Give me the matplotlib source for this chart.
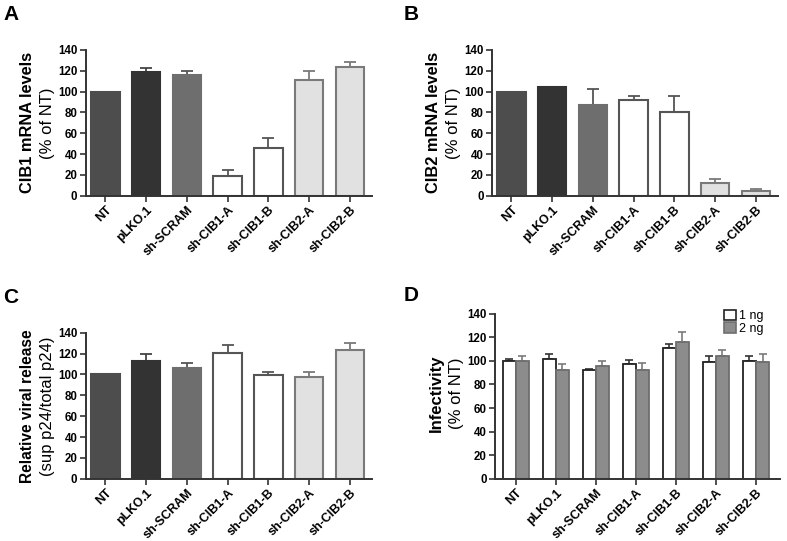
import numpy as np
import matplotlib as mpl
mpl.use('Agg')
from matplotlib import pyplot as plt
from matplotlib.patches import Patch

plt.rcParams['font.family'] = ['Liberation Sans', 'DejaVu Sans']

labels = ['NT', 'pLKO.1', 'sh-SCRAM', 'sh-CIB1-A', 'sh-CIB1-B', 'sh-CIB2-A', 'sh-CIB2-B']

# A: CIB1 mRNA levels (% of NT)
cib1_mean = [100, 118.5, 116, 19, 46, 111, 123.5]
cib1_err = [0, 4.5, 3.5, 5.5, 9, 9, 4.5]
# B: CIB2 mRNA levels (% of NT)
cib2_mean = [100, 104, 87, 92, 80, 12, 4.5]
cib2_err = [0, 0, 15, 4, 16, 4, 2.5]
# C: relative viral release
release_mean = [100, 112.5, 106, 121, 99.5, 97.5, 123]
release_err = [0, 7.5, 5, 7, 2.5, 4.5, 7]
# D: infectivity, two doses
inf_1ng = [100, 102, 92, 97.5, 111, 99.5, 100.3]
inf_1ng_err = [2, 4, 1, 3.5, 3, 5, 3.7]
inf_2ng = [100, 92.5, 96, 92.7, 115.8, 104.3, 99.5]
inf_2ng_err = [4, 4.8, 4.2, 5.3, 8.5, 5, 6]

face = ['#4d4d4d', '#333333', '#6e6e6e', 'white', 'white', '#e1e1e1', '#e1e1e1']
edge = ['#4d4d4d', '#333333', '#6e6e6e', '#555555', '#555555', '#7a7a7a', '#7a7a7a']
errc = ['#444444', '#444444', '#555555', '#555555', '#555555', '#7a7a7a', '#7a7a7a']

AXC = '#333333'
XTICK_FS = 9
YTICK_FS = 8.3
REG_FS = 12


def style_axis(ax):
    ax.spines['top'].set_visible(False)
    ax.spines['right'].set_visible(False)
    for s in ['left', 'bottom']:
        ax.spines[s].set_color(AXC)
        ax.spines[s].set_linewidth(1.4)
    ax.set_ylim(0, 140)
    ax.set_yticks(np.arange(0, 141, 20))
    ax.tick_params(axis='both', direction='out', color=AXC, width=1.2, length=4, pad=2)
    ax.tick_params(axis='y', labelsize=YTICK_FS)
    for t in ax.get_yticklabels():
        t.set_fontweight('bold')
    ax.set_xticks(np.arange(len(labels)))
    ax.set_xticklabels(labels, rotation=45, ha='right', rotation_mode='anchor',
                       fontweight='bold', fontsize=XTICK_FS)


def ylab(ax, l1, l2, fs1, x1=-0.203, x2=-0.135, yc=0.5):
    ax.text(x1, yc, l1, transform=ax.transAxes, rotation=90, ha='center',
            va='center', fontsize=fs1, fontweight='bold')
    ax.text(x2, yc, l2, transform=ax.transAxes, rotation=90, ha='center',
            va='center', fontsize=REG_FS)


def single_bars(ax, mean, err):
    x = np.arange(len(labels))
    ax.bar(x, mean, width=0.7, color=face, edgecolor=edge, linewidth=1.5, zorder=2)
    for i in range(len(x)):
        if err[i] > 0:
            ax.errorbar(x[i], mean[i], yerr=[[0], [err[i]]], fmt='none',
                        ecolor=errc[i], elinewidth=1.3, capsize=4, capthick=1.3, zorder=1)
    ax.set_xlim(-0.48, 6.55)


fig = plt.figure(figsize=(7.87, 5.41), dpi=100)

axA = fig.add_axes([0.109, 0.638, 0.364, 0.270])
single_bars(axA, cib1_mean, cib1_err)
style_axis(axA)
ylab(axA, 'CIB1 mRNA levels', '(% of NT)', 11.8)

axB = fig.add_axes([0.625, 0.638, 0.364, 0.270])
single_bars(axB, cib2_mean, cib2_err)
style_axis(axB)
ylab(axB, 'CIB2 mRNA levels', '(% of NT)', 11.8)

axC = fig.add_axes([0.109, 0.115, 0.364, 0.270])
single_bars(axC, release_mean, release_err)
style_axis(axC)
ylab(axC, 'Relative viral release', '(sup p24/total p24)', 11.2)

axD = fig.add_axes([0.629, 0.115, 0.362, 0.305])
x = np.arange(len(labels))
w = 0.33
axD.bar(x - w / 2, inf_1ng, width=w, color='white', edgecolor='#222222', linewidth=1.3, zorder=2)
axD.bar(x + w / 2, inf_2ng, width=w, color='#8c8c8c', edgecolor='#6e6e6e', linewidth=1.3, zorder=2)
axD.errorbar(x - w / 2, inf_1ng, yerr=[np.zeros(len(x)), inf_1ng_err], fmt='none',
             ecolor='#333333', elinewidth=1.2, capsize=3, capthick=1.2, zorder=1)
axD.errorbar(x + w / 2, inf_2ng, yerr=[np.zeros(len(x)), inf_2ng_err], fmt='none',
             ecolor='#7a7a7a', elinewidth=1.2, capsize=3, capthick=1.2, zorder=1)
axD.set_xlim(-0.52, 6.6)
style_axis(axD)
ylab(axD, 'Infectivity', '(% of NT)', 12, x1=-0.205, x2=-0.135, yc=0.52)
handles = [Patch(facecolor='white', edgecolor='#222222', linewidth=1.2, label='1 ng'),
           Patch(facecolor='#8c8c8c', edgecolor='#6e6e6e', linewidth=1.2, label='2 ng')]
axD.legend(handles=handles, loc='upper right', bbox_to_anchor=(0.97, 1.07), frameon=False,
           fontsize=9, handlelength=0.9, handleheight=0.9, handletextpad=0.3,
           labelspacing=0.0, borderaxespad=0.2)

# panel letters
for letter, (px, py) in zip('ABCD', [(0.004, 0.99), (0.513, 0.99), (0.004, 0.467), (0.513, 0.472)]):
    fig.text(px, py, letter, fontsize=15, fontweight='bold', ha='left', va='top')

plt.savefig('out.png', dpi=100)
plt.close()
